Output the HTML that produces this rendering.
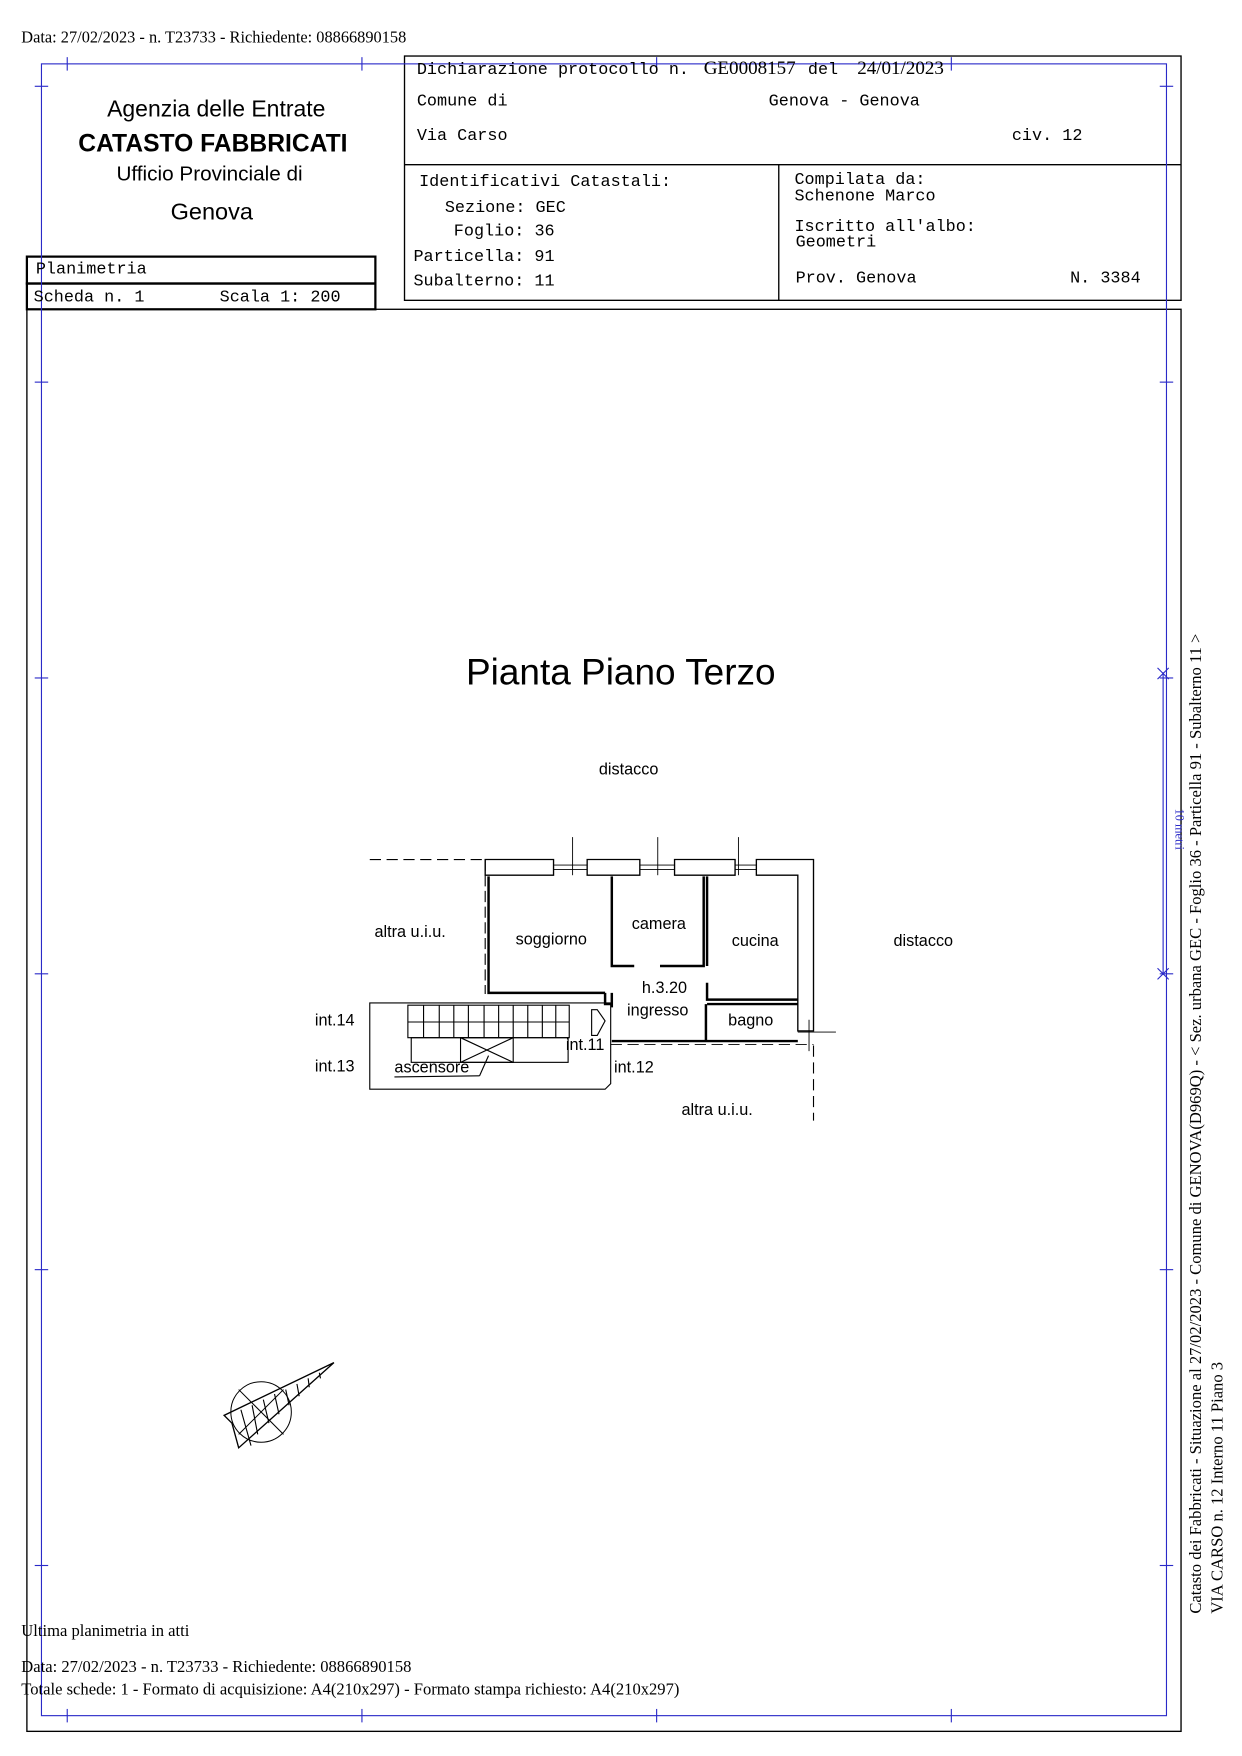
<!DOCTYPE html>
<html><head><meta charset="utf-8"><style>
html,body{margin:0;padding:0;background:#fff;}
svg{display:block;}
.m{font-family:"Liberation Mono",monospace;font-size:15px;}
.s{font-family:"Liberation Serif",serif;}
.a{font-family:"Liberation Sans",sans-serif;}
</style></head><body>
<svg width="1242" height="1756" viewBox="0 0 1108.4 1567" preserveAspectRatio="none" xmlns="http://www.w3.org/2000/svg">
<rect width="1110" height="1570" fill="#fff"/>
<text x="19" y="38" class="s" font-size="14.6">Data: 27/02/2023 - n. T23733 - Richiedente: 08866890158</text>

<g stroke="#000" fill="none" stroke-width="1.2">
<rect x="361" y="50" width="693" height="218"/>
<line x1="361" y1="147" x2="1054" y2="147"/>
<line x1="695" y1="147" x2="695" y2="268"/>
<rect x="24" y="229" width="311" height="24" stroke-width="2"/>
<rect x="24" y="253" width="311" height="23" stroke-width="2"/>
<rect x="24" y="276" width="1030" height="1269"/>
</g>
<g stroke="#2a2ac8" fill="none" stroke-width="1">
<rect x="37" y="57" width="1004" height="1474"/>
<g>
<line x1="60" y1="51" x2="60" y2="63"/><line x1="323" y1="51" x2="323" y2="63"/><line x1="586" y1="51" x2="586" y2="63"/><line x1="849" y1="51" x2="849" y2="63"/>
<line x1="60" y1="1525" x2="60" y2="1537"/><line x1="323" y1="1525" x2="323" y2="1537"/><line x1="586" y1="1525" x2="586" y2="1537"/><line x1="849" y1="1525" x2="849" y2="1537"/>
<line x1="31" y1="77" x2="43" y2="77"/><line x1="31" y1="341" x2="43" y2="341"/><line x1="31" y1="605" x2="43" y2="605"/><line x1="31" y1="869" x2="43" y2="869"/><line x1="31" y1="1133" x2="43" y2="1133"/><line x1="31" y1="1397" x2="43" y2="1397"/>
<line x1="1035" y1="77" x2="1047" y2="77"/><line x1="1035" y1="341" x2="1047" y2="341"/><line x1="1035" y1="605" x2="1047" y2="605"/><line x1="1035" y1="869" x2="1047" y2="869"/><line x1="1035" y1="1133" x2="1047" y2="1133"/><line x1="1035" y1="1397" x2="1047" y2="1397"/>
</g>
<line x1="1038" y1="600" x2="1038" y2="870"/>
<line x1="1033" y1="596" x2="1043" y2="606"/><line x1="1043" y1="596" x2="1033" y2="606"/>
<line x1="1033" y1="864" x2="1043" y2="874"/><line x1="1043" y1="864" x2="1033" y2="874"/>
</g>
<text transform="translate(1049,740) rotate(90)" class="s" font-size="11" fill="#2a2ac8" text-anchor="middle">10 metri</text>

<g class="a" text-anchor="middle" fill="#000">
<text x="193" y="104" font-size="20.5">Agenzia delle Entrate</text>
<text x="190" y="135" font-size="22" font-weight="bold">CATASTO FABBRICATI</text>
<text x="187" y="161" font-size="18.5">Ufficio Provinciale di</text>
<text x="189" y="196" font-size="21">Genova</text>
</g>
<g class="m" fill="#000">
<text x="372" y="66">Dichiarazione protocollo n.</text>
<text x="628" y="66" class="s" font-size="17">GE0008157</text>
<text x="721" y="66">del</text>
<text x="765" y="66" class="s" font-size="17">24/01/2023</text>
<text x="372" y="94">Comune di</text>
<text x="686" y="94">Genova - Genova</text>
<text x="372" y="125">Via Carso</text>
<text x="903" y="125">civ. 12</text>
<text x="374" y="166">Identificativi Catastali:</text>
<text x="397" y="189">Sezione: GEC</text>
<text x="405" y="210">Foglio: 36</text>
<text x="369" y="233">Particella: 91</text>
<text x="369" y="255">Subalterno: 11</text>
<text x="709" y="164">Compilata da:</text>
<text x="709" y="179">Schenone Marco</text>
<text x="709" y="206">Iscritto all'albo:</text>
<text x="710" y="220">Geometri</text>
<text x="710" y="252">Prov. Genova</text>
<text x="955" y="252">N.  3384</text>
<text x="32" y="244">Planimetria</text>
<text x="30" y="269">Scheda n. 1</text>
<text x="196" y="269">Scala 1: 200</text>
</g>

<text x="554" y="611" class="a" font-size="33" text-anchor="middle">Pianta Piano Terzo</text>
<g class="a" font-size="14.5" fill="#000">
<text x="561" y="691" text-anchor="middle">distacco</text>
<text x="824" y="844" text-anchor="middle">distacco</text>
<text x="366" y="836" text-anchor="middle">altra u.i.u.</text>
<text x="640" y="995" text-anchor="middle">altra u.i.u.</text>
<text x="492" y="843" text-anchor="middle">soggiorno</text>
<text x="588" y="829" text-anchor="middle">camera</text>
<text x="674" y="844" text-anchor="middle">cucina</text>
<text x="593" y="886" text-anchor="middle">h.3.20</text>
<text x="587" y="906" text-anchor="middle">ingresso</text>
<text x="670" y="915" text-anchor="middle">bagno</text>
<text x="281" y="915">int.14</text>
<text x="281" y="956">int.13</text>
<text x="505" y="937">int.11</text>
<text x="548" y="957">int.12</text>
<text x="352" y="957">ascensore</text>
</g>

<g stroke="#000" fill="none">
<line x1="330" y1="767" x2="433" y2="767" stroke-dasharray="10,5" stroke-width="1"/>
<line x1="433" y1="767" x2="433" y2="887" stroke-dasharray="10,4" stroke-width="1"/>
<line x1="726" y1="933" x2="726" y2="1000" stroke-dasharray="10,5" stroke-width="1"/>
<line x1="545" y1="932" x2="726" y2="932" stroke-dasharray="10,5" stroke-width="0.8"/>
<path d="M433 767 H494 V781 H433 Z" stroke-width="1.2"/>
<path d="M524 767 H571 V781 H524 Z" stroke-width="1.2"/>
<path d="M602 767 H656 V781 H602 Z" stroke-width="1.2"/>
<path d="M675 767 H726 V920 H712 V781 H675 Z" stroke-width="1.2"/>
<g stroke-width="0.8">
<line x1="494" y1="772" x2="524" y2="772"/><line x1="494" y1="776" x2="524" y2="776"/>
<line x1="571" y1="772" x2="602" y2="772"/><line x1="571" y1="776" x2="602" y2="776"/>
<line x1="656" y1="772" x2="675" y2="772"/><line x1="656" y1="776" x2="675" y2="776"/>
<line x1="511" y1="747" x2="511" y2="781"/><line x1="587" y1="747" x2="587" y2="781"/><line x1="659" y1="747" x2="659" y2="781"/>
<line x1="712" y1="921" x2="746" y2="921"/><line x1="722" y1="910" x2="722" y2="938"/>
</g>
<g stroke-width="2.2">
<path d="M436 782 V886 H540"/>
<path d="M546 782 V862 H566 M589 862 H628 V782"/>
<path d="M631 782 V862"/>
<path d="M631 877 V892 H712"/>
<path d="M631 896 H712"/>
<path d="M630 896 V929 M546 929 H712"/>
<path d="M546 886 V899 M540 886 V896 H546"/>
</g>
<g stroke-width="1">
<path d="M330 895 H545 V967 L540 972 H330 Z"/>
<rect x="364" y="897" width="144" height="29"/>
<line x1="364" y1="912" x2="508" y2="912"/>
<line x1="378" y1="897" x2="378" y2="926"/><line x1="392" y1="897" x2="392" y2="926"/><line x1="405" y1="897" x2="405" y2="926"/><line x1="418" y1="897" x2="418" y2="926"/><line x1="432" y1="897" x2="432" y2="926"/><line x1="445" y1="897" x2="445" y2="926"/><line x1="458" y1="897" x2="458" y2="926"/><line x1="471" y1="897" x2="471" y2="926"/><line x1="484" y1="897" x2="484" y2="926"/><line x1="496" y1="897" x2="496" y2="926"/>
<rect x="367" y="926" width="140" height="22"/>
<rect x="411" y="926" width="47" height="22"/>
<line x1="411" y1="926" x2="458" y2="948"/><line x1="458" y1="926" x2="411" y2="948"/>
<line x1="352" y1="961" x2="428" y2="960"/><line x1="428" y1="960" x2="436" y2="942"/>
<path d="M528 901 H533 L540 911 L533 924 H528 Z"/>
</g>
<g stroke-width="0.9">
<circle cx="233" cy="1260" r="27"/>
<line x1="213" y1="1240" x2="253" y2="1280"/>
<line x1="253" y1="1240" x2="213" y2="1280"/>
<path d="M298 1216 L200 1263 L207 1270 L213 1292 Z" stroke-width="1.2"/>
<path d="M215 1258 L224 1290 M225 1254 L230 1280 M235 1249 L240 1270 M245 1244 L249 1262 M255 1240 L258 1254 M265 1235 L267 1246 M275 1230 L276 1238 M285 1225 L286 1230" stroke-width="1"/>
</g>
</g>

<g class="s" font-size="14.8" fill="#000">
<text transform="translate(1072,1440) rotate(-90)">Catasto dei Fabbricati - Situazione al 27/02/2023 - Comune di GENOVA(D969Q) - &lt; Sez. urbana GEC - Foglio 36 - Particella 91 - Subalterno 11 &gt;</text>
<text transform="translate(1091,1440) rotate(-90)">VIA CARSO n. 12  Interno 11 Piano 3</text>
</g>

<g class="s" font-size="14.8" fill="#000">
<text x="19" y="1460">Ultima planimetria in atti</text>
<text x="19" y="1492">Data: 27/02/2023 - n. T23733 - Richiedente: 08866890158</text>
<text x="19" y="1512">Totale schede: 1 - Formato di acquisizione: A4(210x297)  - Formato stampa richiesto: A4(210x297)</text>
</g>
</svg>
</body></html>
